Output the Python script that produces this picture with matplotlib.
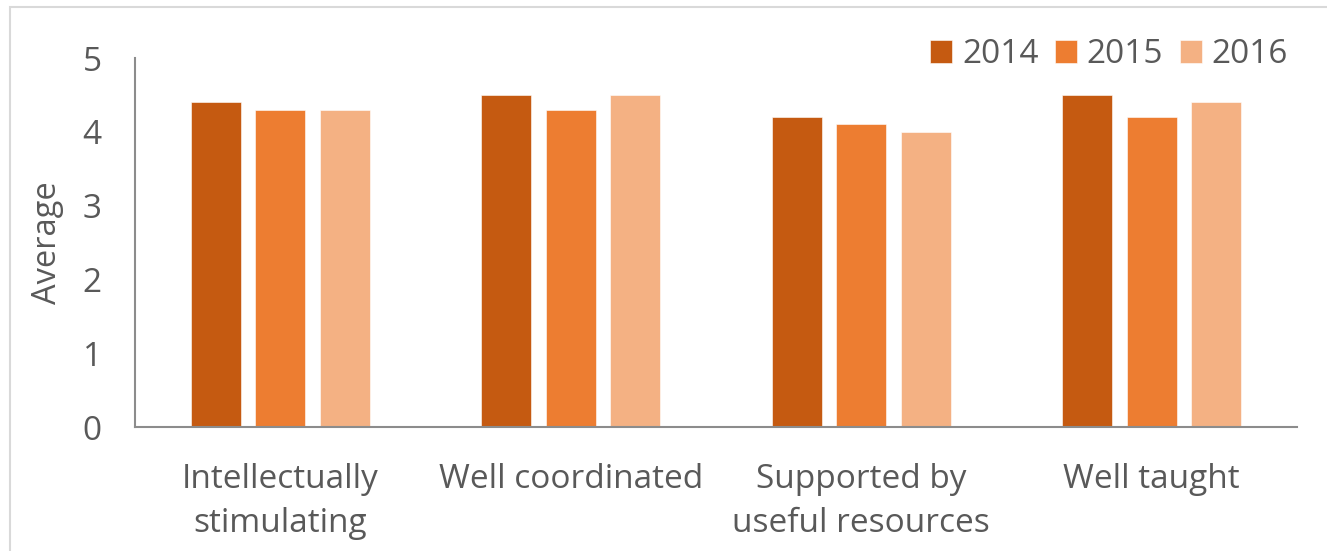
import matplotlib.pyplot as plt
import numpy as np
from matplotlib.patches import Rectangle

categories = ['Intellectually\nstimulating', 'Well coordinated',
              'Supported by\nuseful resources', 'Well taught']
years = ['2014', '2015', '2016']
avg_2014 = [4.4, 4.5, 4.2, 4.5]
avg_2015 = [4.3, 4.3, 4.1, 4.2]
avg_2016 = [4.3, 4.5, 4.0, 4.4]

colors = ['#C55A11', '#ED7D31', '#F4B183']
text_color = '#595959'

plt.rcParams['font.family'] = ['Open Sans', 'DejaVu Sans']

fig = plt.figure(figsize=(13.27, 5.51), dpi=100)
ax = fig.add_axes([0.1017, 0.225, 0.8757, 0.6697])

# light frame around the chart area
fig.patches.append(Rectangle((10 / 1327, -0.1), 1.2, (551 - 7) / 551 + 0.1,
                             transform=fig.transFigure, fill=False,
                             edgecolor='#D9D9D9', linewidth=1.5))

x = np.arange(len(categories))
width = 0.172
step = 0.222
for i, (vals, year) in enumerate(zip([avg_2014, avg_2015, avg_2016], years)):
    ax.bar(x + (i - 1) * step, vals, width, color=colors[i], label=year,
           edgecolor='white', linewidth=0.4)

ax.set_xlim(-0.5, len(categories) - 0.5)
ax.set_ylim(0, 5)
ax.set_yticks(range(6))
ax.set_xticks(x)
ax.set_xticklabels(categories, fontsize=24, color=text_color, linespacing=1.45)
ax.tick_params(axis='y', labelsize=24, colors=text_color, length=0, pad=24)
ax.tick_params(axis='x', length=0, pad=26)
ax.set_ylabel('Average', fontsize=23.5, color=text_color, labelpad=13)

for side in ['top', 'right']:
    ax.spines[side].set_visible(False)
for side in ['left', 'bottom']:
    ax.spines[side].set_color('#8C8C8C')
    ax.spines[side].set_linewidth(1.5)

ax.legend(loc='upper right', bbox_to_anchor=(1.018, 1.135), ncol=3, frameon=False,
          fontsize=24, labelcolor=text_color, handlelength=0.65, handleheight=0.65,
          handletextpad=0.3, columnspacing=0.5)

fig.savefig('out.png', dpi=100)
